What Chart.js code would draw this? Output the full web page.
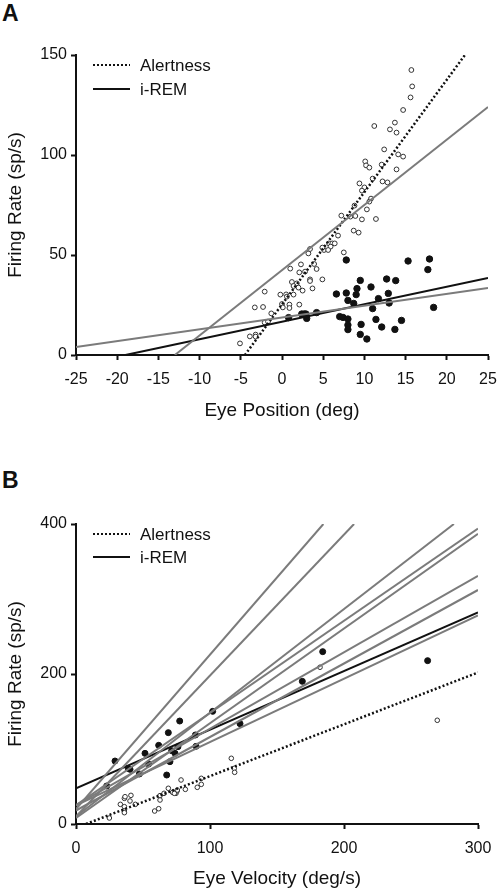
<!DOCTYPE html>
<html>
<head>
<meta charset="utf-8">
<script src="https://cdn.jsdelivr.net/npm/chart.js@4"></script>
<style>
  body { margin: 0; background: #fff; width: 497px; height: 896px; position: relative; overflow: hidden; font-family: "Liberation Sans", Arial, sans-serif; }
  .panel { position: absolute; left: 0; width: 497px; }
  #panelA { top: 0; height: 440px; }
  #panelB { top: 440px; height: 456px; }
  .tag { position: absolute; left: 2px; font-weight: bold; font-size: 23px; color: #111; }
</style>
</head>
<body>
<div class="tag" style="top:0px">A</div>
<div class="tag" style="top:467px">B</div>
<div class="panel" id="panelA"><canvas id="chartA" width="497" height="440"></canvas></div>
<div class="panel" id="panelB"><canvas id="chartB" width="497" height="456"></canvas></div>
<script>
// ---- panel A : eye position ----
const alertPosX = [15.7, 15.8, 15.6, 14.7, 13.7, 11.2, 13.1, 13.9, 12.4, 14.1, 14.7, 10.1, 10.2, 10.6, 12.1, 13.9,
  12.2, 12.8, 9.4, 10.0, 9.7, 11.0, 8.8, 10.8, 10.6, 10.3, 7.2, 8.3, 8.9, 9.7, 11.4, 8.7, 9.3, 7.5, 6.8, 5.7,
  6.1, 6.4, 5.9, 5.1, 4.9, 5.6, 3.2, 3.4, 2.3, 3.9, 4.2, 1.0, 2.1, 2.8, 3.4, 3.4, 4.9, 1.2, 1.8, 1.4, 2.0, 2.5,
  3.7, -2.1, -0.2, 0.5, 0.6, 1.4, 0.0, 0.1, 0.9, 0.9, 2.1, -3.3, -2.3, -1.3, -2.1, -1.7, -3.9, -3.2, -3.2, -5.1];
const alertPosY = [142.5, 134.3, 128.8, 122.5, 116.2, 114.5, 112.8, 111.2, 102.8, 100.3, 99.2, 96.8, 94.8, 93.7, 95.2, 92.8,
  86.8, 86.3, 85.8, 83.8, 82.2, 88.2, 74.7, 78.2, 76.7, 72.8, 69.7, 69.2, 69.5, 67.8, 68.0, 62.2, 61.2, 51.3, 59.7, 55.8,
  55.8, 55.8, 54.2, 52.5, 53.7, 52.5, 50.8, 53.0, 45.3, 45.5, 43.0, 43.2, 41.3, 41.7, 37.8, 37.0, 37.8, 36.5, 35.8, 34.5, 33.7, 32.2,
  33.3, 31.7, 30.2, 30.3, 29.2, 30.2, 25.5, 23.8, 25.2, 23.5, 25.2, 23.8, 24.0, 20.8, 16.2, 16.7, 9.3, 10.2, 9.2, 5.8];
const remPosX = [7.8, 15.3, 17.9, 17.7, 6.6, 7.8, 9.5, 9.1, 9.0, 8.0, 8.7, 10.8, 12.7, 13.8, 12.9, 11.7, 13.0, 11.0,
  18.4, 7.0, 7.4, 8.0, 8.0, 8.0, 9.6, 11.4, 14.5, 12.1, 13.7, 9.5, 10.3, 0.8, 2.4, 2.7, 2.9, 3.0, 4.2];
const remPosY = [47.5, 47.0, 48.0, 42.7, 30.5, 31.0, 37.3, 33.2, 30.2, 27.3, 25.8, 34.0, 38.0, 37.2, 30.8, 28.2, 26.0, 23.2,
  23.8, 19.2, 18.8, 18.0, 15.0, 12.7, 15.3, 17.8, 17.3, 14.0, 12.8, 10.3, 8.0, 18.7, 20.5, 20.5, 20.5, 18.3, 21.2];
const alertFitAX = [-4.5, 22.2], alertFitAY = [0, 150];
const remFitAX = [-19, 25], remFitAY = [0, 38.5];
const grayFitsA = [[[-13, 0], [25, 124]], [[-25, 4], [25, 33.5]]];
const xTicksA = [-25, 25, 5], yTicksA = [0, 150, 50];

// ---- panel B : eye velocity ----
const alertVelX = [24.9, 33.1, 36.1, 41.0, 40.3, 36.1, 36.1, 44.3, 58.7, 61.7, 62.7, 62.7, 65.7, 68.9, 72.1, 74.6, 75.4,
  78.4, 81.6, 90.5, 93.5, 93.5, 115.9, 118.1, 118.4, 36.6, 36.1, 73.4, 75.6, 182.1, 269.6];
const alertVelY = [8.0, 26.2, 34.2, 38.2, 30.7, 23.1, 17.3, 26.2, 17.3, 20.4, 37.8, 32.0, 40.9, 47.6, 42.2, 40.9, 44.0,
  58.7, 46.2, 48.9, 52.9, 60.9, 87.6, 74.2, 68.9, 36.4, 15.1, 40.9, 45.3, 209, 138.3];
const remVelX = [29.1, 22.9, 39.0, 40.3, 47.3, 51.5, 54.2, 61.7, 68.9, 67.7, 70.1, 71.4, 73.9, 76.1, 77.4, 89.1, 89.6,
  102.0, 122.4, 168.9, 184.1, 262.4];
const remVelY = [84.0, 50.7, 74.2, 72.9, 66.7, 94.2, 80.0, 104.9, 121.8, 65.3, 83.1, 97.8, 94.2, 103.1, 137.3, 118.7, 103.6,
  150.2, 133.8, 190.2, 229.8, 217.8];
const alertFitBX = [7.5, 300], alertFitBY = [0, 202];
const remFitBX = [0, 300], remFitBY = [47.6, 282];
const grayFitsB = [
  [[0, 20], [184.6, 400]], [[0, 10], [207.5, 400]], [[0, 10], [282, 400]], [[0, 25], [300, 394]],
  [[0, 8], [300, 387]], [[0, 25], [300, 331]], [[0, 18], [300, 312]], [[0, 25], [300, 278]]
];
const xTicksB = [0, 300, 100], yTicksB = [0, 400, 200];

const FONT = '"Liberation Sans", Arial, sans-serif';
const GRAY = '#7b7b7b';

function zip(xs, ys) {
  return xs.map((x, i) => ({ x: x, y: ys[i] }));
}

function lineSet(xs, ys, color, dash, width) {
  return {
    type: 'scatter', showLine: true, data: zip(xs, ys),
    borderColor: color, borderWidth: width, borderDash: dash,
    pointRadius: 0, fill: false
  };
}

function pointSet(pts, filled, r) {
  return {
    type: 'scatter', data: pts,
    pointRadius: r, pointBorderWidth: 1,
    pointBackgroundColor: filled ? '#111' : '#fff',
    pointBorderColor: filled ? '#111' : '#333'
  };
}

// legend drawn inside the plot, top-left
const legendPlugin = {
  id: 'miniLegend',
  afterDraw(chart, args, opts) {
    const ctx = chart.ctx;
    const l = chart.chartArea.left;
    const t = chart.chartArea.top;
    ctx.save();
    ctx.strokeStyle = '#111';
    ctx.lineWidth = 2;
    ctx.font = '17px ' + FONT;
    ctx.fillStyle = '#111';
    ctx.textBaseline = 'middle';
    const rows = [['Alertness', [2, 2], opts.y0], ['i-REM', [], opts.y1]];
    rows.forEach(r => {
      ctx.setLineDash(r[1]);
      ctx.beginPath();
      ctx.moveTo(l + 17, t + r[2]);
      ctx.lineTo(l + 54, t + r[2]);
      ctx.stroke();
      ctx.fillText(r[0], l + 64, t + r[2] + 1);
    });
    ctx.restore();
  }
};

function axis(range, title, fitSize, isX, titlePad) {
  return {
    type: 'linear', min: range[0], max: range[1],
    ticks: { stepSize: range[2], color: '#111', font: { family: FONT, size: 16 }, padding: isX ? 10 : 4 },
    grid: { drawOnChartArea: false, drawTicks: true, tickLength: 5, tickColor: '#111', tickWidth: 2 },
    border: { display: true, color: '#111', width: 2 },
    title: { display: true, text: title, color: '#111', font: { family: FONT, size: 19 }, padding: titlePad },
    afterFit(scale) {
      if (isX) {
        scale.height = fitSize;
        // edge labels may overhang; keep the plot width fixed by layout padding
        scale.paddingLeft = 0;
        scale.paddingRight = 0;
      } else {
        scale.width = fitSize;
        scale.paddingTop = 0;
        scale.paddingBottom = 0;
      }
    }
  };
}

function makeChart(id, cfg) {
  const datasets = [];
  cfg.grays.forEach(g => datasets.push(lineSet([g[0][0], g[1][0]], [g[0][1], g[1][1]], GRAY, [], 2)));
  datasets.push(lineSet(cfg.remFit[0], cfg.remFit[1], '#111', [], 2));
  datasets.push(lineSet(cfg.alertFit[0], cfg.alertFit[1], '#111', [2, 2.2], 2.5));
  datasets.push(pointSet(cfg.alertPts, false, cfg.openR));
  datasets.push(pointSet(cfg.remPts, true, cfg.fillR));
  return new Chart(document.getElementById(id), {
    type: 'scatter',
    data: { datasets: datasets },
    options: {
      responsive: false,
      animation: false,
      layout: { padding: { top: cfg.padTop, right: cfg.padRight, left: 0, bottom: 0 } },
      plugins: {
        legend: { display: false },
        tooltip: { enabled: false },
        miniLegend: { y0: cfg.legY[0], y1: cfg.legY[1] }
      },
      scales: {
        x: axis(cfg.xTicks, cfg.xTitle, cfg.xFit, true, { top: 4, bottom: cfg.xTitlePad }),
        y: axis(cfg.yTicks, 'Firing Rate (sp/s)', 76, false, { top: 4, bottom: 4 })
      }
    },
    plugins: [legendPlugin]
  });
}

makeChart('chartA', {
  grays: grayFitsA, remFit: [remFitAX, remFitAY], alertFit: [alertFitAX, alertFitAY],
  alertPts: zip(alertPosX, alertPosY), remPts: zip(remPosX, remPosY),
  openR: 2.4, fillR: 3.2, padTop: 55, padRight: 9, xFit: 85, xTitlePad: 18,
  xTicks: xTicksA, yTicks: yTicksA, xTitle: 'Eye Position (deg)', legY: [10, 34]
});

makeChart('chartB', {
  grays: grayFitsB, remFit: [remFitBX, remFitBY], alertFit: [alertFitBX, alertFitBY],
  alertPts: zip(alertVelX, alertVelY), remPts: zip(remVelX, remVelY),
  openR: 2.3, fillR: 3.0, padTop: 84, padRight: 19, xFit: 72, xTitlePad: 6,
  xTicks: xTicksB, yTicks: yTicksB, xTitle: 'Eye Velocity (deg/s)', legY: [10, 33]
});
</script>
</body>
</html>
